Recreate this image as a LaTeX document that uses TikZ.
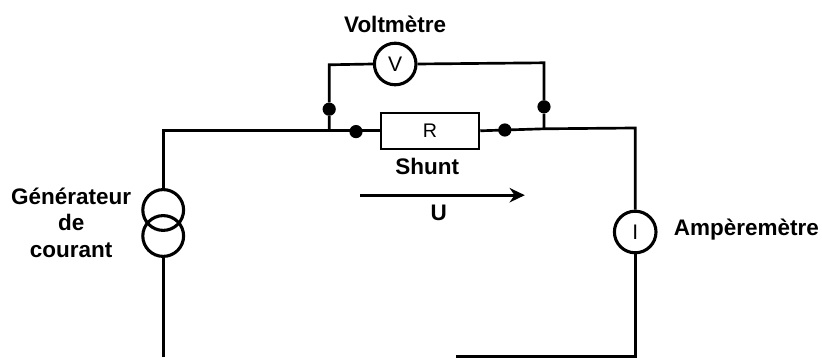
\documentclass[tikz,border=0pt]{standalone}
\usepackage{fontspec}
\setmainfont{Liberation Sans}
\usetikzlibrary{positioning,arrows.meta}

\tikzset{
  wire/.style={line width=1.9pt},
  meter/.style={circle,draw,line width=2.2pt,minimum size=1.04cm,inner sep=0pt,font=\fontsize{15}{15}\selectfont},
  source/.style={circle,draw,line width=2.2pt,minimum size=1.02cm,inner sep=0pt},
  junction/.style={circle,fill=black,minimum size=0.33cm,inner sep=0pt},
  shuntbox/.style={rectangle,draw,line width=1.8pt,minimum width=2.45cm,minimum height=0.9cm,inner sep=0pt,font=\fontsize{14}{15}\selectfont},
  txt/.style={font=\bfseries\fontsize{16}{18.6}\selectfont,inner sep=0pt,align=center}
}

\begin{document}
\begin{tikzpicture}[>=stealth]
    \useasboundingbox (0,0) rectangle (20.55,8.95);

    % elements
    \node[source] (gena) at (4.08,3.7) {};
    \node[source] (genb) at (4.08,3.05) {};
    \node[meter] (amp) at (15.88,3.15) {I};
    \node[shuntbox] (shunt) at (10.75,5.68) {R};
    \node[meter] (volt) at (9.88,7.35) {V};

    % junctions
    \node[junction] (ja) at (8.9,5.66) {};
    \node[junction] (jb) at (12.62,5.7) {};
    \node[junction] (jc) at (8.23,6.22) {};
    \node[junction] (jd) at (13.6,6.28) {};

    % corners
    \coordinate (tl) at (4.08,5.68);
    \coordinate (tr) at (15.88,5.75);
    \coordinate (bl) at (4.08,0.02);
    \coordinate (br) at (15.88,0.03);
    \coordinate (bm) at (11.4,0.03);
    \coordinate (ta) at (8.23,5.68);
    \coordinate (tb) at (13.6,5.73);
    \coordinate (va) at (8.23,7.33);
    \coordinate (vb) at (13.6,7.38);

    % main loop
    \draw[wire] (gena.north) -- (tl) -- (ta) -- (shunt.west);
    \draw[wire] (shunt.east) -- (tb) -- (tr) -- (amp.north);
    \draw[wire] (amp.south) -- (br) -- (bm);
    \draw[wire] (genb.south) -- (bl);

    % voltmeter branch
    \draw[wire] (ta) -- (jc) -- (va) -- (volt.west);
    \draw[wire] (tb) -- (jd) -- (vb) -- (volt.east);

    % arrow
    \coordinate (ua) at (9,4.07);
    \coordinate (ub) at (13.12,4.07);
    \draw[-{Stealth[length=0.38cm,width=0.36cm]},wire] (ua) -- (ub);

    % labels
    \node[txt] (lvolt) at (9.88,8.33) {Voltmètre};
    \node[txt] (lshunt) at (10.68,4.78) {Shunt};
    \node[txt] (lu) at (10.97,3.63) {U};
    \node[txt] (lgen) at (1.78,3.38) {Générateur\\de\\courant};
    \node[txt] (lamp) at (18.66,3.22) {Ampèremètre};
\end{tikzpicture}
\end{document}
